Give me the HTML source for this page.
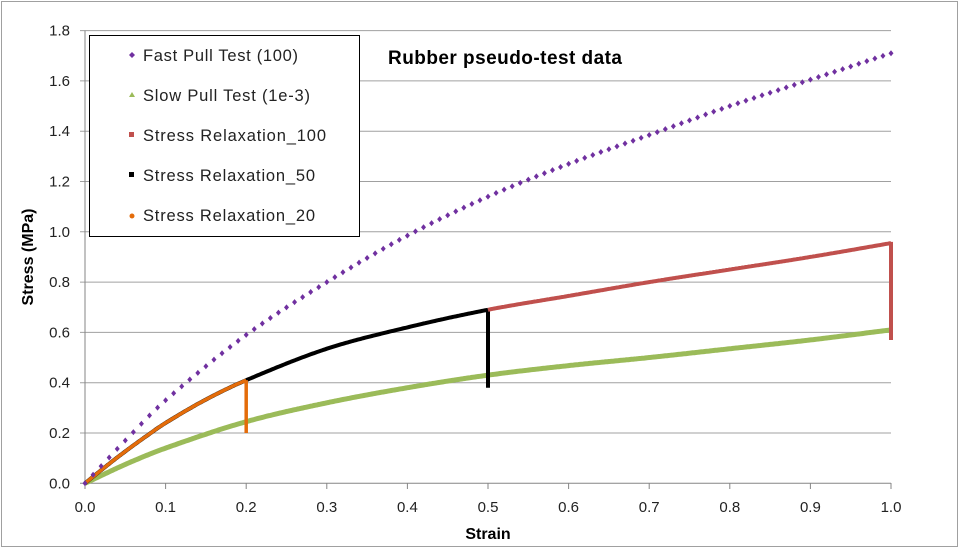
<!DOCTYPE html><html><head><style>body{margin:0;background:#fff}svg{display:block;font-family:"Liberation Sans",Arial,sans-serif}</style></head><body>
<svg id="s" width="960" height="550" xmlns="http://www.w3.org/2000/svg">
<rect x="1.5" y="1.5" width="956" height="545" fill="#fff" stroke="#a0a0a0"/>
<g id="g"></g>
<text x="388" y="64" font-size="19" font-weight="bold" fill="#000" textLength="234">Rubber pseudo-test data</text>
<text x="488" y="539" font-size="16" font-weight="bold" text-anchor="middle">Strain</text>
<text transform="translate(33,257) rotate(-90)" font-size="16" font-weight="bold" text-anchor="middle">Stress (MPa)</text>
<rect x="89.5" y="35.5" width="270" height="201" fill="#fff" stroke="#000"/>
<g font-size="16.5" fill="#222">
<path d="M132,52 l3,3 -3,3 -3,-3z" fill="#7030a0"/><text x="143" y="61" textLength="155">Fast Pull Test (100)</text>
<path d="M132,92 l3,5 h-6z" fill="#9bbb59"/><text x="143" y="101" textLength="167">Slow Pull Test (1e-3)</text>
<rect x="129" y="132" width="5" height="5" fill="#c0504d"/><text x="143" y="141" textLength="183">Stress Relaxation_100</text>
<rect x="129" y="172" width="5" height="5" fill="#000"/><text x="143" y="181" textLength="172">Stress Relaxation_50</text>
<circle cx="132" cy="216" r="2.5" fill="#e46c0a"/><text x="143" y="221" textLength="172">Stress Relaxation_20</text>
</g>
</svg>
<script>
const g=document.getElementById('g');let h='';
const X=x=>85+x*806,Y=y=>483.3-y*251.5;
for(let i=0;i<=9;i++){const y=Y(i*0.2);h+=`<line x1="80" x2="891" y1="${y}" y2="${y}" stroke="${i==0?'#868686':'#a0a0a0'}"/>`;h+=`<text x="70" y="${y+5}" font-size="15" text-anchor="end" fill="#222">${(i*0.2).toFixed(1)}</text>`;}
h+=`<line x1="85" x2="85" y1="${Y(1.8)}" y2="484" stroke="#868686"/>`;
for(let i=0;i<=10;i++){const x=X(i/10);h+=`<line x1="${x}" x2="${x}" y1="483" y2="489" stroke="#868686"/><text x="${x}" y="512" font-size="15" text-anchor="middle" fill="#222">${(i/10).toFixed(1)}</text>`;}
function interp(p,x){for(let i=0;i<p.length-1;i++){if(x<=p[i+1][0]){const[a,b]=p[i],[c,d]=p[i+1];
 const m=(j)=>{const l=p[Math.max(j-1,0)],r=p[Math.min(j+1,p.length-1)];return (r[1]-l[1])/(r[0]-l[0]);};
 const t=(x-a)/(c-a),hh=c-a,m0=m(i),m1=m(i+1);return (2*t**3-3*t**2+1)*b+(t**3-2*t**2+t)*hh*m0+(-2*t**3+3*t**2)*d+(t**3-t**2)*hh*m1;}}return p[p.length-1][1];}
function path(p,x0,x1){let s='';for(let x=x0;x<=x1+1e-9;x+=0.002)s+=(s?'L':'M')+X(x).toFixed(1)+','+Y(interp(p,x)).toFixed(1);return s;}
const fast=[[0,0],[0.05,0.17],[0.1,0.33],[0.2,0.59],[0.3,0.8],[0.4,0.985],[0.5,1.14],[0.6,1.27],[0.7,1.385],[0.8,1.5],[0.9,1.605],[1,1.71]];
const slow=[[0,0],[0.05,0.075],[0.1,0.14],[0.2,0.245],[0.3,0.32],[0.4,0.38],[0.5,0.43],[0.6,0.468],[0.7,0.5],[0.8,0.535],[0.9,0.57],[1,0.61]];
const rel=[[0,0],[0.025,0.065],[0.05,0.127],[0.075,0.185],[0.1,0.24],[0.15,0.333],[0.2,0.41],[0.3,0.535],[0.4,0.62],[0.5,0.69],[0.6,0.745],[0.7,0.8],[0.8,0.85],[0.9,0.9],[1,0.955]];
h+=`<path d="${path(slow,0,1)}" fill="none" stroke="#9bbb59" stroke-width="5"/>`;
h+=`<path d="${path(rel,0,0.5)}" fill="none" stroke="#000" stroke-width="4"/>`;
h+=`<line x1="${X(0.5)}" x2="${X(0.5)}" y1="${Y(0.69)}" y2="${Y(0.38)}" stroke="#000" stroke-width="4"/>`;
h+=`<path d="${path(rel,0.5,1)}" fill="none" stroke="#c0504d" stroke-width="4"/>`;
h+=`<line x1="${X(1)}" x2="${X(1)}" y1="${Y(0.96)}" y2="${Y(0.57)}" stroke="#c0504d" stroke-width="4"/>`;
h+=`<path d="${path(rel,0,0.2)}" fill="none" stroke="#e46c0a" stroke-width="3.5"/>`;
h+=`<line x1="${X(0.2)}" x2="${X(0.2)}" y1="${Y(0.41)}" y2="${Y(0.2)}" stroke="#e46c0a" stroke-width="3.5"/>`;
for(let x=0;x<=1.0001;x+=0.01){const cx=X(x),cy=Y(interp(fast,x));h+=`<path d="M${cx},${cy-3}l2.5,3 -2.5,3 -2.5,-3z" fill="#7030a0"/>`;}
g.innerHTML=h;
</script></body></html>
